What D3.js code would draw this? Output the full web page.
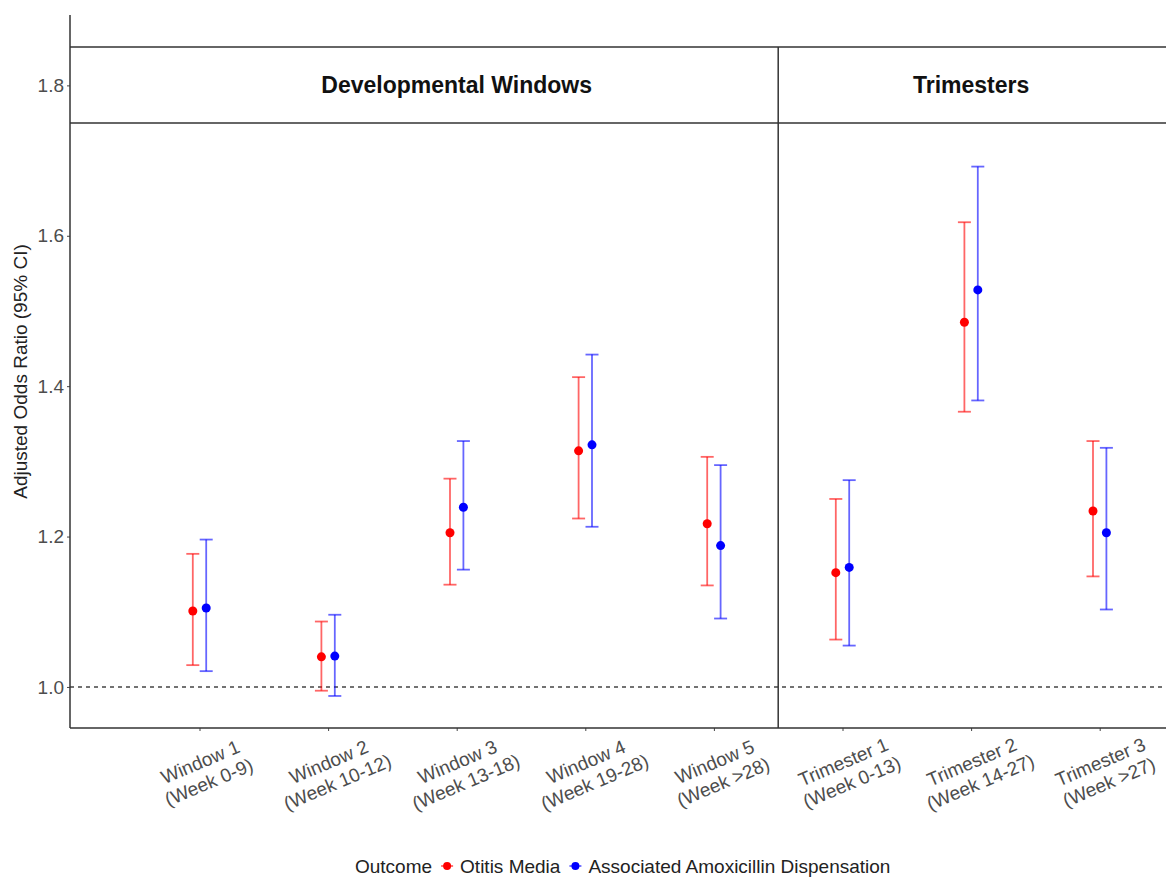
<!DOCTYPE html>
<html>
<head>
<meta charset="utf-8">
<script src="https://cdn.jsdelivr.net/npm/d3@7"></script>
<style>
  body { margin: 0; background: #fff; }
  text { font-family: "Liberation Sans", Arial, sans-serif; }
</style>
</head>
<body>
<div id="chart"></div>
<script>
// categories (two-line tick labels)
var categories = [
    ["Window 1", "(Week 0-9)"],
    ["Window 2", "(Week 10-12)"],
    ["Window 3", "(Week 13-18)"],
    ["Window 4", "(Week 19-28)"],
    ["Window 5", "(Week >28)"],
    ["Trimester 1", "(Week 0-13)"],
    ["Trimester 2", "(Week 14-27)"],
    ["Trimester 3", "(Week >27)"]
];
var panelNames = ["Developmental Windows", "Trimesters"];
var yTicks = [1.0, 1.2, 1.4, 1.6, 1.8];

var seriesNames = ["Otitis Media", "Associated Amoxicillin Dispensation"];
var seriesColors = ["#ff0000", "#0000ff"];

// Otitis Media
var otitisOR   = [1.101, 1.040, 1.205, 1.314, 1.217, 1.152, 1.485, 1.234];
var otitisLow  = [1.029, 0.995, 1.136, 1.224, 1.135, 1.063, 1.366, 1.147];
var otitisHigh = [1.177, 1.087, 1.277, 1.412, 1.306, 1.250, 1.618, 1.327];
// Associated Amoxicillin Dispensation
var amoxOR   = [1.105, 1.041, 1.239, 1.322, 1.188, 1.159, 1.528, 1.205];
var amoxLow  = [1.021, 0.988, 1.156, 1.213, 1.091, 1.055, 1.381, 1.103];
var amoxHigh = [1.196, 1.096, 1.327, 1.442, 1.295, 1.275, 1.692, 1.318];

var width = 1166,
    height = 879;

var svg = d3.select("#chart")
    .append("svg")
    .attr("width", width)
    .attr("height", height);

var plotLeft = 70, plotTop = 15, plotBottom = 728, plotRight = width;

var keys = categories.map(function (c) { return c.join(" "); });

var x = d3.scalePoint()
    .domain(keys)
    .range([199.5, 1099.7]);

var y = d3.scaleLinear()
    .domain([0.9454, 1.8936])
    .range([plotBottom, plotTop]);

var dodge = 6.7;

// on construit les lignes de données
var rows = [];
for (var i = 0; i < keys.length; i++) {
    rows.push({ key: keys[i], s: 0, or: otitisOR[i], lo: otitisLow[i], hi: otitisHigh[i] });
    rows.push({ key: keys[i], s: 1, or: amoxOR[i], lo: amoxLow[i], hi: amoxHigh[i] });
}
function cx(d) { return x(d.key) + (d.s === 0 ? -dodge : dodge); }

var lineColor = "#333";

// ligne de référence à 1
svg.append("line")
    .attr("x1", plotLeft).attr("x2", plotRight)
    .attr("y1", y(1)).attr("y2", y(1))
    .attr("stroke", "#444")
    .attr("stroke-width", 1.4)
    .attr("stroke-dasharray", "4,4");

// bandeaux des panneaux
var stripTop = 47, stripBottom = 123;
svg.append("line").attr("x1", plotLeft).attr("x2", plotRight)
    .attr("y1", stripTop).attr("y2", stripTop)
    .attr("stroke", lineColor).attr("stroke-width", 1.5);
svg.append("line").attr("x1", plotLeft).attr("x2", plotRight)
    .attr("y1", stripBottom).attr("y2", stripBottom)
    .attr("stroke", lineColor).attr("stroke-width", 1.5);

var sepX = (x(keys[4]) + x(keys[5])) / 2;
svg.append("line").attr("x1", sepX).attr("x2", sepX)
    .attr("y1", stripTop).attr("y2", plotBottom)
    .attr("stroke", lineColor).attr("stroke-width", 1.5);

svg.selectAll(".strip")
    .data(panelNames)
    .enter()
    .append("text")
    .attr("class", "strip")
    .attr("x", function (d, i) { return i === 0 ? x(keys[2]) : x(keys[6]); })
    .attr("y", (stripTop + stripBottom) / 2)
    .attr("dy", "0.35em")
    .attr("text-anchor", "middle")
    .attr("font-size", 23)
    .attr("font-weight", "bold")
    .attr("fill", "#111")
    .text(function (d) { return d; });

// barres d'erreur
var cap = 6.5;
var bars = svg.selectAll(".bar").data(rows).enter().append("g")
    .attr("class", "bar")
    .attr("stroke", function (d) { return seriesColors[d.s]; })
    .attr("stroke-opacity", 0.6)
    .attr("stroke-width", 1.8);
bars.append("line")
    .attr("x1", cx).attr("x2", cx)
    .attr("y1", function (d) { return y(d.lo); })
    .attr("y2", function (d) { return y(d.hi); });
bars.append("line")
    .attr("x1", function (d) { return cx(d) - cap; })
    .attr("x2", function (d) { return cx(d) + cap; })
    .attr("y1", function (d) { return y(d.lo); })
    .attr("y2", function (d) { return y(d.lo); });
bars.append("line")
    .attr("x1", function (d) { return cx(d) - cap; })
    .attr("x2", function (d) { return cx(d) + cap; })
    .attr("y1", function (d) { return y(d.hi); })
    .attr("y2", function (d) { return y(d.hi); });

// points
svg.selectAll(".pt").data(rows).enter().append("circle")
    .attr("class", "pt")
    .attr("cx", cx)
    .attr("cy", function (d) { return y(d.or); })
    .attr("r", 4.5)
    .attr("fill", function (d) { return seriesColors[d.s]; });

// axe Y
var yAxis = svg.append("g")
    .attr("transform", "translate(" + plotLeft + ",0)")
    .call(d3.axisLeft(y).tickValues(yTicks).tickFormat(d3.format(".1f")).tickSize(3).tickPadding(3));
yAxis.select(".domain").remove();
yAxis.selectAll("line").attr("stroke", "#444");
yAxis.selectAll("text")
    .attr("font-size", 19)
    .attr("fill", "#4d4d4d")
    .style("font-family", "Liberation Sans, Arial, sans-serif");
svg.append("line").attr("x1", plotLeft).attr("x2", plotLeft)
    .attr("y1", plotTop).attr("y2", plotBottom)
    .attr("stroke", lineColor).attr("stroke-width", 1.5);

// axe X
var xAxis = svg.append("g")
    .attr("transform", "translate(0," + plotBottom + ")")
    .call(d3.axisBottom(x).tickSize(3).tickFormat(""));
xAxis.select(".domain").remove();
xAxis.selectAll("line").attr("stroke", "#444");
svg.append("line").attr("x1", plotLeft).attr("x2", plotRight)
    .attr("y1", plotBottom).attr("y2", plotBottom)
    .attr("stroke", lineColor).attr("stroke-width", 1.5);

var xLabels = svg.selectAll(".xlab").data(categories).enter().append("text")
    .attr("class", "xlab")
    .attr("transform", function (d, i) {
        return "translate(" + (x(keys[i]) + 5) + "," + (plotBottom + 44) + ") rotate(-23)";
    })
    .attr("text-anchor", "middle")
    .attr("font-size", 19)
    .attr("fill", "#4d4d4d");
xLabels.append("tspan").attr("x", 0).attr("y", -11).attr("dy", "0.35em").text(function (d) { return d[0]; });
xLabels.append("tspan").attr("x", 0).attr("y", 11).attr("dy", "0.35em").text(function (d) { return d[1]; });

// titre axe Y
svg.append("text")
    .attr("transform", "translate(20," + ((plotTop + plotBottom) / 2) + ") rotate(-90)")
    .attr("dy", "0.35em")
    .attr("text-anchor", "middle")
    .attr("font-size", 19)
    .attr("fill", "#222")
    .text("Adjusted Odds Ratio (95% CI)");

// légende
var legY = 866;
var legend = svg.append("g");
var cursor = 355;
var outcome = legend.append("text")
    .attr("x", cursor).attr("y", legY).attr("dy", "0.35em")
    .attr("font-size", 19).attr("fill", "#222")
    .text("Outcome");
cursor += outcome.node().getComputedTextLength();
seriesNames.forEach(function (name, i) {
    var kx = cursor + 15;
    legend.append("line")
        .attr("x1", kx - 6).attr("x2", kx + 6)
        .attr("y1", legY).attr("y2", legY)
        .attr("stroke", seriesColors[i])
        .attr("stroke-opacity", 0.6)
        .attr("stroke-width", 1.8);
    legend.append("circle")
        .attr("cx", kx).attr("cy", legY)
        .attr("r", 4)
        .attr("fill", seriesColors[i]);
    var t = legend.append("text")
        .attr("x", kx + 13).attr("y", legY).attr("dy", "0.35em")
        .attr("font-size", 19).attr("fill", "#222")
        .text(name);
    cursor = kx + 13 + t.node().getComputedTextLength();
});
</script>
</body>
</html>
